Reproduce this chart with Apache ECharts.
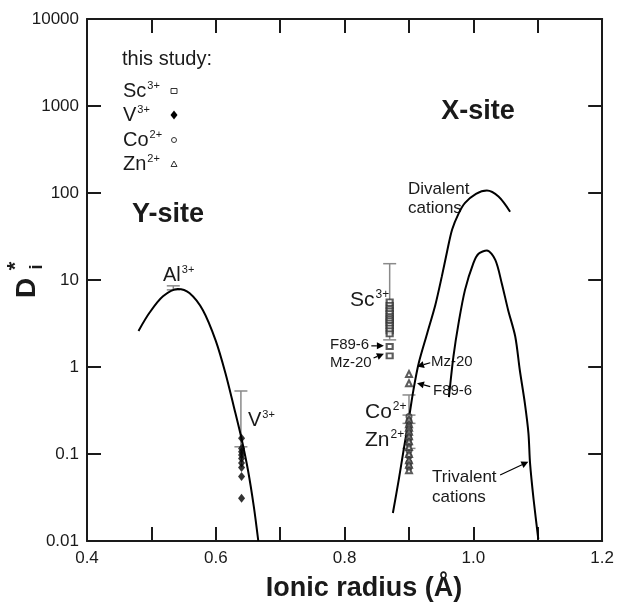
<!DOCTYPE html>
<html>
<head>
<meta charset="utf-8">
<script src="https://cdn.jsdelivr.net/npm/echarts@6/dist/echarts.min.js"></script>
<style>
html, body { margin: 0; padding: 0; background: #fff; }
#chart { width: 617px; height: 608px; }
</style>
</head>
<body>
<div id="chart"></div>
<script>
// fitted curves: [ionic radius (A), D*]
var ysiteCurve = [
    [0.480, 2.6], [0.497, 4.2], [0.518, 6.5], [0.541, 7.9], [0.559, 7.1],
    [0.580, 4.5], [0.600, 2.0], [0.615, 0.85], [0.628, 0.35], [0.640, 0.15],
    [0.650, 0.065], [0.659, 0.025], [0.666, 0.01]
];
var divalentCurve = [
    [0.875, 0.021], [0.884, 0.05], [0.892, 0.115], [0.900, 0.26], [0.907, 0.55],
    [0.915, 1.1], [0.928, 2.4], [0.941, 5.2], [0.951, 11], [0.959, 21],
    [0.967, 38], [0.977, 58], [0.987, 77], [1.004, 98], [1.021, 107],
    [1.039, 91], [1.057, 61]
];
var trivalentCurve = [
    [0.962, 0.45], [0.969, 1.32], [0.977, 3.2], [0.987, 7.7], [1.000, 15.6],
    [1.008, 20], [1.021, 21.8], [1.034, 17], [1.044, 9.2], [1.054, 4.5],
    [1.065, 2.24], [1.072, 0.93], [1.080, 0.38], [1.0855, 0.173], [1.088, 0.078],
    [1.0935, 0.03], [1.1008, 0.0105]
];

// this study
var scRadius = 0.87;
var scValues = [5.6, 5.1, 4.7, 4.4, 4.1, 3.8, 3.6, 3.4, 3.2, 3.0, 2.8, 2.6, 2.4, 1.72, 1.34];
var vRadius = 0.64;
var vValues = [0.152, 0.116, 0.106, 0.0975, 0.089, 0.079, 0.070, 0.055, 0.031];
var coRadius = 0.90;
var coValues = [0.27, 0.24, 0.21, 0.19, 0.17, 0.15, 0.13, 0.11, 0.095, 0.08, 0.07];
var znRadius = 0.90;
var znValues = [0.25, 0.22, 0.2, 0.18, 0.16, 0.14, 0.12, 0.1, 0.085, 0.075, 0.065, 0.83, 0.65];

// error bars [r, low, high]
var errorBars = [
    [0.534, 7.7, 8.57],
    [0.639, 0.121, 0.53],
    [0.870, 2.05, 15.4],
    [0.900, 0.28, 0.477],
    [0.900, 0.116, 0.225]
];

// arrows [r from, D from, r to, D to]
var arrows = [
    [0.8415, 1.75, 0.861, 1.75],
    [0.845, 1.27, 0.861, 1.42],
    [0.933, 1.12, 0.9124, 1.01],
    [0.933, 0.595, 0.9124, 0.652],
    [1.0415, 0.0573, 1.0853, 0.0815]
];

var xTickLabels = ['0.4', '0.6', '0.8', '1.0', '1.2'];
var yTickLabels = ['0.01', '0.1', '1', '10', '100', '1000', '10000'];

var FONT = '"Liberation Sans", Arial, Helvetica, sans-serif';
var INK = '#1a1a1a';

function pts(r, vals) {
    return vals.map(function (v) { return [r, v]; });
}

// text with a superscript (e.g. Sc3+)
function ionText(x, y, base, sup, size) {
    return {
        type: 'text', x: x, y: y,
        style: {
            text: '{b|' + base + '}{s|' + sup + '}',
            verticalAlign: 'middle',
            rich: {
                b: { fontSize: size, fontFamily: FONT, fill: INK, lineHeight: size + 2 },
                s: { fontSize: Math.round(size * 0.55), fontFamily: FONT, fill: INK,
                     verticalAlign: 'top', lineHeight: size + 2, padding: [0, 0, 0, 1] }
            }
        }
    };
}

function plainText(x, y, txt, size, bold, align) {
    return {
        type: 'text', x: x, y: y,
        style: {
            text: txt, fontSize: size, fontFamily: FONT, fontWeight: bold ? 'bold' : 'normal',
            fill: INK, align: align || 'left', verticalAlign: 'middle'
        }
    };
}

var myChart = echarts.init(document.getElementById('chart'));

var axisCommon = {
    type: 'value',
    min: 0.4,
    max: 1.2,
    interval: 0.1,
    axisLine: { show: true, onZero: false, lineStyle: { color: INK, width: 2 } },
    axisTick: { show: true, inside: true, length: 14, lineStyle: { color: INK, width: 2 } },
    splitLine: { show: false }
};

var option = {
    animation: false,
    backgroundColor: '#fff',
    grid: { left: 87, right: 13, top: 19, bottom: 67 },
    xAxis: [
        Object.assign({}, axisCommon, {
            position: 'bottom',
            axisLabel: {
                fontSize: 17, fontFamily: FONT, color: INK, margin: 9,
                formatter: function (v) {
                    var s = v.toFixed(1);
                    return xTickLabels.indexOf(s) >= 0 ? s : '';
                }
            }
        }),
        Object.assign({}, axisCommon, { position: 'top', axisLabel: { show: false } })
    ],
    yAxis: [
        {
            type: 'log', logBase: 10, min: 0.01, max: 10000, position: 'left',
            axisLine: { show: true, lineStyle: { color: INK, width: 2 } },
            axisTick: { show: true, inside: true, length: 14, lineStyle: { color: INK, width: 2 } },
            splitLine: { show: false },
            axisLabel: {
                fontSize: 17, fontFamily: FONT, color: INK, margin: 8,
                formatter: function (v) {
                    var k = Math.round(Math.log10(v)) + 2;
                    return yTickLabels[k] || '';
                }
            }
        },
        {
            type: 'log', logBase: 10, min: 0.01, max: 10000, position: 'right',
            axisLine: { show: true, lineStyle: { color: INK, width: 2 } },
            axisTick: { show: true, inside: true, length: 14, lineStyle: { color: INK, width: 2 } },
            splitLine: { show: false },
            axisLabel: { show: false }
        }
    ],
    series: [
        {
            name: 'Y-site', type: 'line', data: ysiteCurve, smooth: 0.3, showSymbol: false,
            lineStyle: { color: '#000', width: 2 }, z: 3
        },
        {
            name: 'Divalent', type: 'line', data: divalentCurve, smooth: 0.3, showSymbol: false,
            lineStyle: { color: '#000', width: 2 }, z: 3
        },
        {
            name: 'Trivalent', type: 'line', data: trivalentCurve, smooth: 0.3, showSymbol: false,
            lineStyle: { color: '#000', width: 2 }, z: 3
        },
        {
            name: 'errors', type: 'custom', data: errorBars, z: 2,
            encode: { x: 0, y: [1, 2] },
            renderItem: function (params, api) {
                var top = api.coord([api.value(0), api.value(2)]);
                var bot = api.coord([api.value(0), api.value(1)]);
                var w = 6.5;
                var st = { stroke: '#8a8a8a', lineWidth: 1.5 };
                return {
                    type: 'group',
                    children: [
                        { type: 'line', shape: { x1: top[0], y1: top[1], x2: bot[0], y2: bot[1] }, style: st },
                        { type: 'line', shape: { x1: top[0] - w, y1: top[1], x2: top[0] + w, y2: top[1] }, style: st },
                        { type: 'line', shape: { x1: bot[0] - w, y1: bot[1], x2: bot[0] + w, y2: bot[1] }, style: st }
                    ]
                };
            }
        },
        {
            name: 'Sc', type: 'scatter', data: pts(scRadius, scValues), symbol: 'emptyRect', symbolSize: [6, 5],
            itemStyle: { color: '#333', borderWidth: 1 }, z: 4
        },
        {
            name: 'V', type: 'scatter', data: pts(vRadius, vValues), symbol: 'diamond', symbolSize: [7, 9],
            itemStyle: { color: '#000' }, z: 4
        },
        {
            name: 'Co', type: 'scatter', data: pts(coRadius, coValues), symbol: 'emptyCircle', symbolSize: 5,
            itemStyle: { color: '#333', borderWidth: 1 }, z: 4
        },
        {
            name: 'Zn', type: 'scatter', data: pts(znRadius, znValues), symbol: 'emptyTriangle', symbolSize: 6,
            itemStyle: { color: '#333', borderWidth: 1 }, z: 4
        },
        {
            name: 'arrows', type: 'custom', data: arrows, z: 5,
            encode: { x: [0, 2], y: [1, 3] },
            renderItem: function (params, api) {
                var a = api.coord([api.value(0), api.value(1)]);
                var b = api.coord([api.value(2), api.value(3)]);
                var dx = b[0] - a[0], dy = b[1] - a[1];
                var len = Math.sqrt(dx * dx + dy * dy);
                var ux = dx / len, uy = dy / len;
                var hl = 7, hw = 3.5;
                var bx = b[0] - ux * hl, by = b[1] - uy * hl;
                return {
                    type: 'group',
                    children: [
                        { type: 'line', shape: { x1: a[0], y1: a[1], x2: bx, y2: by },
                          style: { stroke: '#000', lineWidth: 1.2 } },
                        { type: 'polygon', shape: { points: [
                            [b[0], b[1]],
                            [bx - uy * hw, by + ux * hw],
                            [bx + uy * hw, by - ux * hw]
                          ] }, style: { fill: '#000' } }
                    ]
                };
            }
        }
    ],
    graphic: [
        // legend
        plainText(122, 59, 'this study:', 20),
        ionText(123, 91, 'Sc', '3+', 20),
        ionText(123, 115, 'V', '3+', 20),
        ionText(123, 140, 'Co', '2+', 20),
        ionText(123, 164, 'Zn', '2+', 20),
        { type: 'rect', shape: { x: 171, y: 88.5, width: 6, height: 5 }, style: { fill: '#fff', stroke: '#333', lineWidth: 1 } },
        { type: 'polygon', shape: { points: [[174, 110.5], [177.5, 115], [174, 119.5], [170.5, 115]] }, style: { fill: '#000' } },
        { type: 'circle', shape: { cx: 174, cy: 140, r: 2.5 }, style: { fill: '#fff', stroke: '#333', lineWidth: 1 } },
        { type: 'polygon', shape: { points: [[174, 161], [177, 166.5], [171, 166.5]] }, style: { fill: '#fff', stroke: '#333', lineWidth: 1 } },

        // site labels
        plainText(168, 215, 'Y-site', 27, true, 'center'),
        plainText(478, 112, 'X-site', 27, true, 'center'),

        // ion labels
        ionText(163, 275, 'Al', '3+', 20),
        ionText(248, 420, 'V', '3+', 20),
        ionText(350, 300, 'Sc', '3+', 21),
        ionText(365, 412, 'Co', '2+', 21),
        ionText(365, 440, 'Zn', '2+', 21),

        // sample labels
        plainText(330, 345, 'F89-6', 15),
        plainText(330, 363, 'Mz-20', 15),
        plainText(431, 362, 'Mz-20', 15),
        plainText(433, 391, 'F89-6', 15),

        // curve labels
        plainText(408, 189, 'Divalent', 17),
        plainText(408, 208, 'cations', 17),
        plainText(432, 477, 'Trivalent', 17),
        plainText(432, 497, 'cations', 17),

        // axis titles
        plainText(364, 589, 'Ionic radius (Å)', 27, true, 'center'),
        { type: 'text', x: 27, y: 288, rotation: Math.PI / 2,
          style: { text: 'D', fontSize: 28, fontWeight: 'bold', fontFamily: FONT, fill: INK, align: 'center', verticalAlign: 'middle' } },
        { type: 'text', x: 16, y: 266, rotation: Math.PI / 2,
          style: { text: '*', fontSize: 22, fontWeight: 'bold', fontFamily: FONT, fill: INK, align: 'center', verticalAlign: 'middle' } },
        { type: 'text', x: 37, y: 267, rotation: Math.PI / 2,
          style: { text: 'i', fontSize: 18, fontWeight: 'bold', fontFamily: FONT, fill: INK, align: 'center', verticalAlign: 'middle' } }
    ]
};

myChart.setOption(option);
</script>
</body>
</html>
